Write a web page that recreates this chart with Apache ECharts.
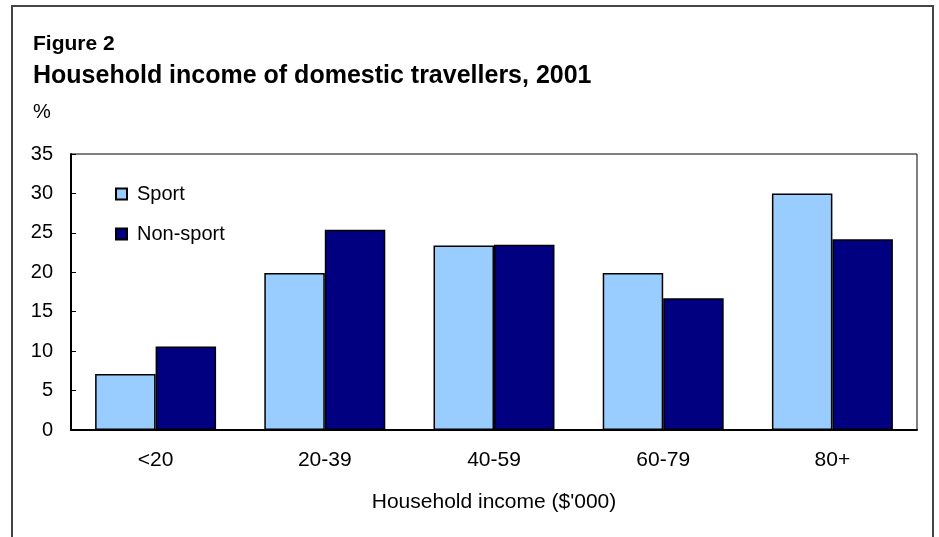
<!DOCTYPE html>
<html>
<head>
<meta charset="utf-8">
<script src="https://cdn.jsdelivr.net/npm/echarts@6/dist/echarts.min.js"></script>
<style>
  html, body { margin: 0; padding: 0; background: #fff; }
  #chart { width: 939px; height: 537px; }
</style>
</head>
<body>
<div id="chart"></div>
<script>
// Income brackets (thousands of dollars)
const categories = ['<20', '20-39', '40-59', '60-79', '80+'];
// Share of domestic travellers, %
const sportValues = [7.1, 19.9, 23.4, 19.9, 30.0];
const nonSportValues = [10.6, 25.4, 23.5, 16.7, 24.2];
const yTicks = [0, 5, 10, 15, 20, 25, 30, 35];

const FONT = 'Liberation Sans, Arial, sans-serif';

const chart = echarts.init(document.getElementById('chart'), null, { renderer: 'canvas' });

chart.setOption({
  animation: false,
  backgroundColor: '#fff',
  textStyle: { fontFamily: FONT },
  graphic: [
    {
      type: 'rect',
      shape: { x: 12, y: 6, width: 921, height: 600 },
      style: { fill: 'none', stroke: '#444', lineWidth: 2 },
      silent: true
    },
    {
      type: 'text',
      style: { x: 33, y: 44, text: 'Figure 2', font: 'bold 21px ' + FONT, fill: '#000', textVerticalAlign: 'middle' }
    },
    {
      type: 'text',
      style: { x: 33, y: 76, text: 'Household income of domestic travellers, 2001', font: 'bold 25px ' + FONT, fill: '#000', textVerticalAlign: 'middle' }
    },
    {
      type: 'text',
      style: { x: 33, y: 112, text: '%', font: '20px ' + FONT, fill: '#000', textVerticalAlign: 'middle' }
    }
  ],
  grid: {
    left: 71, right: 22, top: 154, bottom: 107,
    show: true, borderColor: '#000', borderWidth: 1, backgroundColor: 'transparent'
  },
  legend: {
    orient: 'vertical',
    left: 110, top: 179,
    icon: 'rect',
    itemWidth: 11, itemHeight: 11,
    itemGap: 20,
    textStyle: { fontSize: 20, color: '#000', fontFamily: FONT, padding: [0, 0, 0, 5] },
    data: ['Sport', 'Non-sport']
  },
  xAxis: {
    type: 'category',
    data: categories,
    axisLine: { lineStyle: { color: '#000', width: 2 } },
    axisTick: { show: false },
    axisLabel: { color: '#000', fontSize: 21, margin: 20, fontFamily: FONT },
    name: "Household income ($'000)",
    nameLocation: 'middle',
    nameGap: 62,
    nameTextStyle: { color: '#000', fontSize: 21, fontFamily: FONT }
  },
  yAxis: {
    type: 'value',
    min: yTicks[0],
    max: yTicks[yTicks.length - 1],
    interval: yTicks[1] - yTicks[0],
    axisLine: { show: true, lineStyle: { color: '#000', width: 2 } },
    axisTick: { show: true, inside: true, length: 5, lineStyle: { color: '#000', width: 1 } },
    axisLabel: { color: '#000', fontSize: 20, margin: 18, fontFamily: FONT },
    splitLine: { show: false }
  },
  series: [
    {
      name: 'Sport',
      type: 'bar',
      data: sportValues,
      barGap: '0%',
      barCategoryGap: '28.5%',
      itemStyle: { color: '#99CCFF', borderColor: '#000', borderWidth: 1.5 }
    },
    {
      name: 'Non-sport',
      type: 'bar',
      data: nonSportValues,
      itemStyle: { color: '#000080', borderColor: '#000', borderWidth: 1.5 }
    }
  ]
});
</script>
</body>
</html>
